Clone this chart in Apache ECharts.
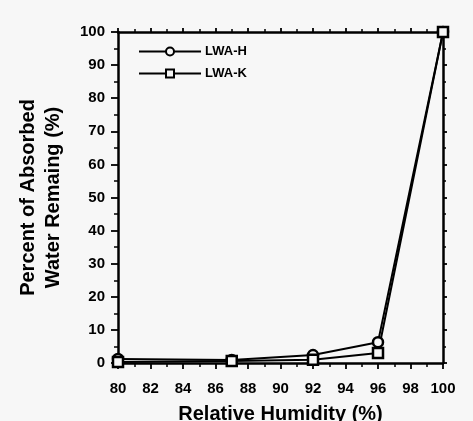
<!DOCTYPE html>
<html><head><meta charset="utf-8">
<script src="https://cdn.jsdelivr.net/npm/echarts@6/dist/echarts.min.js"></script>
<style>html,body{margin:0;padding:0;background:#f7f7f7}#c{width:473px;height:421px}</style>
</head><body><div id="c"></div>
<script>
const humidity = [80, 87, 92, 96, 100];
const lwaH = [1.2, 0.9, 2.4, 6.3, 100];
const lwaK = [0.3, 0.6, 1.0, 3.0, 100];
const seriesNames = ['LWA-H', 'LWA-K'];
const xTicks = {min: 80, max: 100, interval: 2};
const yTicks = {min: 0, max: 100, interval: 10};

const font = 'Liberation Sans';
const chart = echarts.init(document.getElementById('c'));
function axisStyle(major, minor){
  return {
    axisLine: {onZero: false, lineStyle: {color: '#000', width: 2.5}},
    axisTick: {inside: false, length: major, lineStyle: {color: '#000', width: 1.8}},
    minorTick: {show: true, splitNumber: 2, length: minor, lineStyle: {color: '#000', width: 1.5}},
    splitLine: {show: false}
  };
}
const labelStyle = {fontFamily: font, fontWeight: 'bold', fontSize: 15, color: '#000'};
const titleStyle = {fontFamily: font, fontWeight: 'bold', fontSize: 20, color: '#000'};
function pairs(ys){ return humidity.map((x,i)=>[x, ys[i]]); }
chart.setOption({
  backgroundColor: '#f7f7f7',
  animation: false,
  grid: {left: 118, right: 30, top: 32, bottom: 58, containLabel: false, outerBoundsMode: 'none'},
  legend: {
    left: 133, top: 40, orient: 'vertical', itemGap: 9,
    itemWidth: 62, itemHeight: 10,
    textStyle: {fontFamily: font, fontWeight: 'bold', fontSize: 13, color: '#000', padding: [0,0,0,-1]},
    data: seriesNames
  },
  xAxis: [
    Object.assign({type: 'value', min: xTicks.min, max: xTicks.max, interval: xTicks.interval,
      name: 'Relative Humidity (%)', nameLocation: 'middle', nameGap: 41,
      nameTextStyle: titleStyle,
      axisLabel: Object.assign({margin: 18}, labelStyle)}, axisStyle(6, 4)),
    Object.assign({type: 'value', position: 'top', min: xTicks.min, max: xTicks.max, interval: xTicks.interval,
      axisLabel: {show: false}}, axisStyle(4, 3))
  ],
  yAxis: [
    Object.assign({type: 'value', min: yTicks.min, max: yTicks.max, interval: yTicks.interval,
      name: 'Percent of Absorbed\nWater Remaing (%)', nameLocation: 'middle', nameGap: 52,
      nameTextStyle: Object.assign({lineHeight: 25}, titleStyle),
      axisLabel: Object.assign({margin: 13}, labelStyle)}, axisStyle(7, 4)),
    Object.assign({type: 'value', position: 'right', min: yTicks.min, max: yTicks.max, interval: yTicks.interval,
      axisLabel: {show: false}}, axisStyle(4, 3))
  ],
  series: [
    {name: seriesNames[0], type: 'line', data: pairs(lwaH), symbol: 'circle', symbolSize: 10,
      lineStyle: {color: '#000', width: 2}, itemStyle: {color: '#f7f7f7', borderColor: '#000', borderWidth: 2.5}},
    {name: seriesNames[1], type: 'line', data: pairs(lwaK), symbol: 'rect', symbolSize: 10,
      lineStyle: {color: '#000', width: 2}, itemStyle: {color: '#f7f7f7', borderColor: '#000', borderWidth: 2.5}}
  ]
});
</script></body></html>
